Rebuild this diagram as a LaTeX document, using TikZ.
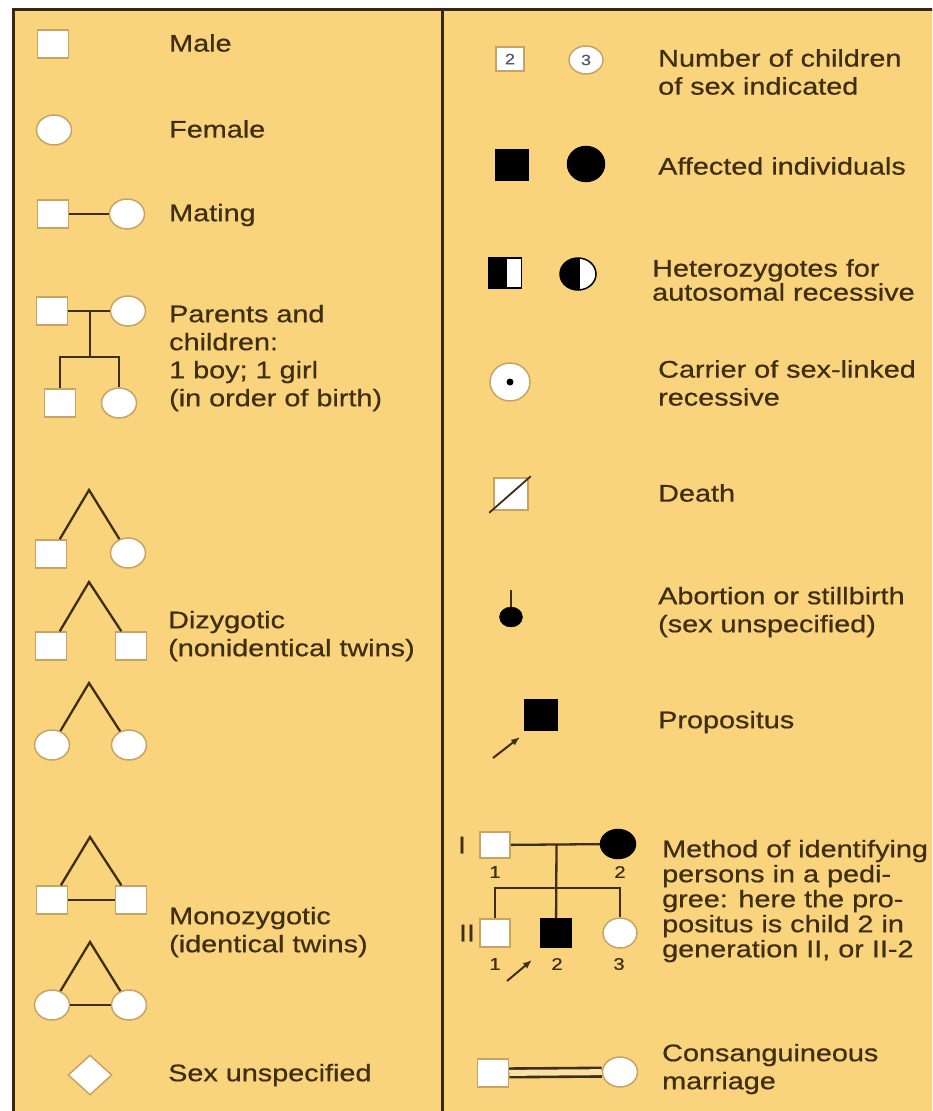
\documentclass[tikz,border=0pt]{standalone}
\usepackage{fontspec}
\setmainfont{Liberation Sans}[FakeStretch=1.2,FakeBold=0.6]
\usetikzlibrary{shapes.geometric,arrows.meta,calc}
\definecolor{panel}{RGB}{250,212,124}
\definecolor{ink}{RGB}{62,46,18}
\definecolor{rim}{RGB}{200,164,100}
\definecolor{frame}{RGB}{58,40,14}
\definecolor{digit}{RGB}{85,90,105}
\begin{document}
\begin{tikzpicture}[x=1pt,y=-1pt,
  sq/.style={rectangle,draw=rim,line width=1.5pt,fill=white,minimum width=31pt,minimum height=28pt,inner sep=0pt},
  fe/.style={ellipse,draw=rim,line width=1.5pt,fill=white,minimum width=35pt,minimum height=30pt,inner sep=0pt},
  solid/.style={fill=black,draw=black},
  ln/.style={draw=ink,line width=2.3pt},
  txt/.style={anchor=west,align=left,text=ink,inner sep=0pt,font=\fontsize{24}{28}\selectfont},
  num/.style={text=ink,inner sep=0pt,font=\fontsize{17}{17}\selectfont},
  gen/.style={text=ink,inner sep=0pt,font=\fontsize{24}{24}\selectfont},
  arr/.style={draw=ink,line width=2pt,-{Latex[length=9pt,width=7pt]}},
  halfblack/.style={path picture={\fill[black] (path picture bounding box.south west) rectangle ($(path picture bounding box.north)+(2,0)$);}}
]
\useasboundingbox (0,0) rectangle (932,1111);
\clip (0,0) rectangle (932,1111);
\fill[white] (0,0) rectangle (932,1111);
\draw[frame,line width=3pt,fill=panel] (13,9) rectangle (950,1130);
\draw[frame,line width=3pt] (442,9) -- (442,1130);

% ---------------- left column ----------------
\node[sq] (male) at (53,44) {};
\node[txt] (tmale) at (169,43) {Male};

\node[fe] (fem) at (54,130) {};
\node[txt] (tfem) at (169,129) {Female};

\node[sq] (mm) at (53,214) {};
\node[fe] (mf) at (127,214) {};
\draw[ln] (mm) -- (mf);
\node[txt] (tmat) at (169,215) {Mating};

% parents and children
\node[sq] (pm) at (52,311) {};
\node[fe] (pf) at (128,311) {};
\node[sq] (c1) at (60,403) {};
\node[fe] (c2) at (119,403) {};
\coordinate (pmid) at ($(pm)!0.5!(pf)$);
\coordinate (sib) at (90,357);
\draw[ln] (pm) -- (pf);
\draw[ln] (pmid) -- (sib);
\draw[ln] (c1) |- (sib) -| (c2);
\node[txt] (tpar) at (169,358) {Parents and\\children:\\1 boy; 1 girl\\(in order of birth)};

% dizygotic twins
\coordinate (p1) at (89,490);
\node[sq] (d1a) at (51,554) {};
\node[fe] (d1b) at (128,553) {};
\draw[ln] (d1a) -- (p1) -- (d1b);

\coordinate (p2) at (89,582);
\node[sq] (d2a) at (51,646) {};
\node[sq] (d2b) at (131,646) {};
\draw[ln] (d2a) -- (p2) -- (d2b);

\coordinate (p3) at (89,683);
\node[fe] (d3a) at (52,745) {};
\node[fe] (d3b) at (129,745) {};
\draw[ln] (d3a) -- (p3) -- (d3b);

\node[txt] (tdiz) at (168,636) {Dizygotic\\(nonidentical twins)};

% monozygotic twins
\coordinate (p4) at (90,837);
\node[sq] (m1a) at (52,900) {};
\node[sq] (m1b) at (131,900) {};
\draw[ln] (m1a) -- (p4) -- (m1b);
\draw[ln] (m1a) -- (m1b);

\coordinate (p5) at (90,942);
\node[fe] (m2a) at (52,1005) {};
\node[fe] (m2b) at (129,1005) {};
\draw[ln] (m2a) -- (p5) -- (m2b);
\draw[ln] (m2a) -- (m2b);

\node[txt] (tmono) at (169,932) {Monozygotic\\(identical twins)};

% sex unspecified
\node[diamond,draw=rim,line width=1.5pt,fill=white,minimum width=44pt,minimum height=40pt,inner sep=0pt] (dia) at (90,1075) {};
\node[txt] (tdia) at (168,1075) {Sex unspecified};

% ---------------- right column ----------------
\node[sq,minimum width=28pt,minimum height=24pt,text=digit,font=\fontsize{15}{15}\selectfont] (n2) at (510,59) {2};
\node[fe,minimum width=34pt,minimum height=28pt,text=digit,font=\fontsize{15}{15}\selectfont] (n3) at (586,60) {3};
\node[txt] (tnum) at (658,72) {Number of children\\of sex indicated};

\node[sq,solid,minimum width=33pt,minimum height=30pt] (aff1) at (512,165) {};
\node[fe,solid,minimum width=37pt,minimum height=35pt] (aff2) at (586,164) {};
\node[txt] (taff) at (658,166) {Affected individuals};

\node[sq,draw=black,minimum width=33pt,minimum height=30pt,halfblack] (het1) at (505,273) {};
\node[fe,draw=black,minimum width=36pt,minimum height=32pt,halfblack] (het2) at (578,274) {};
\node[txt,font=\fontsize{24}{24}\selectfont] (thet) at (652,280) {Heterozygotes for\\autosomal recessive};

\node[fe,minimum width=40pt,minimum height=38pt] (car) at (510,382) {};
\fill[black] (car.center) circle (3.5);
\node[txt] (tcar) at (658,383) {Carrier of sex-linked\\recessive};

\node[sq,minimum width=34pt,minimum height=32pt] (dth) at (511,494) {};
\draw[draw=ink,line width=1.8pt] ($(dth.south west)+(-4,2)$) -- ($(dth.north east)+(2,-1)$);
\node[txt] (tdth) at (658,493) {Death};

\node[ellipse,solid,minimum width=23pt,minimum height=20pt,inner sep=0pt] (ab) at (511,617) {};
\coordinate (abtop) at (511,590);
\draw[draw=ink,line width=1.8pt] (ab) -- (abtop);
\node[txt] (tab) at (658,612) {Abortion or stillbirth\\(sex unspecified)};

\node[sq,solid,minimum width=32pt,minimum height=30pt] (prop) at (541,715) {};
\coordinate (pa1) at (493,758);
\coordinate (pa2) at (520,737);
\draw[arr] (pa1) -- (pa2);
\node[txt] (tprop) at (658,722) {Propositus};

% pedigree
\node[gen] (gI) at (462,845) {I};
\node[gen] (gII) at (467,933) {II};
\node[sq,minimum width=30pt,minimum height=26pt] (i1) at (495,845) {};
\node[fe,solid,minimum width=35pt,minimum height=29pt] (i2) at (618,844) {};
\node[sq,minimum width=30pt,minimum height=28pt] (ii1) at (495,933) {};
\node[sq,solid,minimum width=30pt,minimum height=28pt] (ii2) at (556,933) {};
\node[fe,minimum width=34pt,minimum height=30pt] (ii3) at (620,933) {};
\coordinate (pm2) at ($(i1)!0.5!(i2)$);
\coordinate (sib2) at (556,888);
\draw[ln] (i1) -- (i2);
\draw[ln] (pm2) -- (ii2);
\draw[ln] (ii1) |- (sib2) -| (ii3);
\node[num] (l11) at (495,872) {1};
\node[num] (l12) at (620,872) {2};
\node[num] (l21) at (495,964) {1};
\node[num] (l22) at (557,964) {2};
\node[num] (l23) at (619,964) {3};
\coordinate (pb1) at (507,981);
\coordinate (pb2) at (532,960);
\draw[arr] (pb1) -- (pb2);
\node[txt,font=\fontsize{24}{25}\selectfont] (tped) at (662,901) {Method of identifying\\persons in a pedi-\\gree: here the pro-\\positus is child 2 in\\generation II, or II-2};

% consanguineous marriage
\node[sq] (cm) at (493,1073) {};
\node[fe] (cf) at (620,1072) {};
\draw[draw=ink,line width=2.6pt,double=panel!70!white,double distance=6pt] (cm) -- (cf);
\node[txt] (tcon) at (662,1069) {Consanguineous\\marriage};
\end{tikzpicture}
\end{document}
